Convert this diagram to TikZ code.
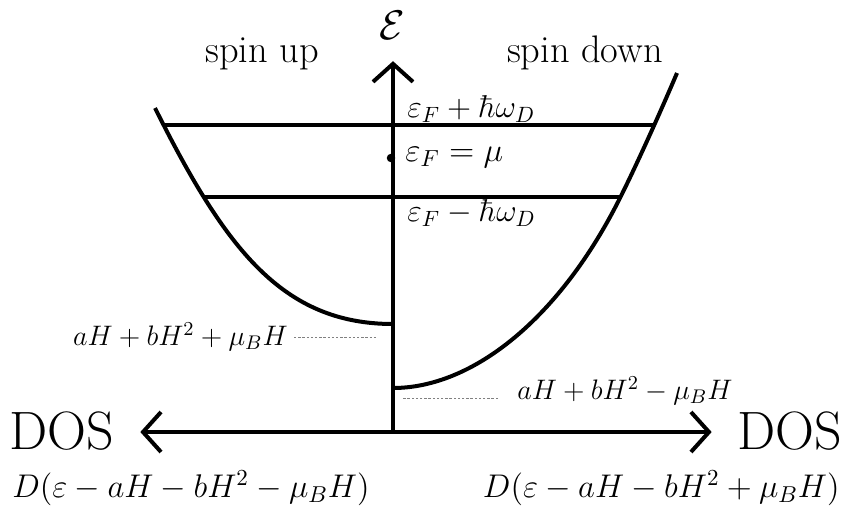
\RequirePackage{fix-cm}
\documentclass[tikz,border=0pt]{standalone}
\usetikzlibrary{arrows.meta, positioning}

\begin{document}
\begin{tikzpicture}[x=0.5pt, y=-0.5pt, >={Straight Barb[length=9pt, width=20pt]},
      ax/.style={line width=2pt},
      band/.style={line width=2pt},
      guide/.style={line width=0.4pt, gray, dash pattern=on 1.2pt off 0.9pt},
      lbl/.style={inner sep=0pt, font=\fontsize{15.8}{18}\selectfont},
      gap/.style={inner sep=0pt, font=\fontsize{14.1}{16}\selectfont},
      fn/.style={inner sep=0pt, font=\fontsize{16.4}{19}\selectfont},
      dos/.style={inner sep=0pt, outer sep=13pt, font=\fontsize{27}{31}\selectfont},
      spinlbl/.style={inner sep=0pt, font=\fontsize{19.2}{23}\selectfont}]
    \useasboundingbox (0,0) rectangle (843,510);
    % axes
    \coordinate (o) at (393,432);
    \node[inner sep=0pt, outer sep=11pt, font=\fontsize{20.7}{24}\selectfont] (eps) at (392,25) {$\mathcal{E}$};
    \node[dos] (dosl) at (62,431) {DOS};
    \node[dos] (dosr) at (790,431) {DOS};
    \draw[ax, ->] (o) -- (o |- eps.south);
    \draw[ax, ->] (o) -- (o -| dosl.east);
    \draw[ax, ->] (o) -- (o -| dosr.west);
    % bands
    \draw[band] (155,108) .. controls (225,248) and (282,324) .. (393,324);
    \draw[band] (393,388) .. controls (473,388) and (560,318) .. (620,198)
                          .. controls (639,160) and (663,106) .. (677,73);
    \draw[band] (164,125) -- (654,125);
    \draw[band] (203,197) -- (620,197);
    \node[circle, fill, inner sep=1.5pt] (mu) at (391,158) {};
    \node[spinlbl, anchor=base] (up) at (262,62) {spin up};
    \node[spinlbl, anchor=base] (down) at (585,62) {spin down};
    % levels
    \node[lbl, anchor=west] (efp) at (407,109) {$\varepsilon_F+\hbar\omega_D$};
    \node[lbl, anchor=west, font=\fontsize{16.6}{20}\selectfont] (ef) at (405,158) {$\varepsilon_F=\mu$};
    \node[lbl, anchor=west] (efm) at (407,213) {$\varepsilon_F-\hbar\omega_D$};
    \node[gap, anchor=east] (gapup) at (288,337) {$aH+bH^2+\mu_BH$};
    \node[gap, anchor=west] (gapdn) at (517,391) {$aH+bH^2-\mu_BH$};
    \draw[guide] ([xshift=3pt]gapup.east) -- ++(83,0);
    \draw[guide] ([shift={(-9.5pt,-3.5pt)}]gapdn.west) -- ++(-95,0);
    \node[fn, anchor=west] (dl) at (12,488) {$D(\varepsilon-aH-bH^2-\mu_BH)$};
    \node[fn, anchor=east] (dr) at (840,488) {$D(\varepsilon-aH-bH^2+\mu_BH)$};
  \end{tikzpicture}
\end{document}
